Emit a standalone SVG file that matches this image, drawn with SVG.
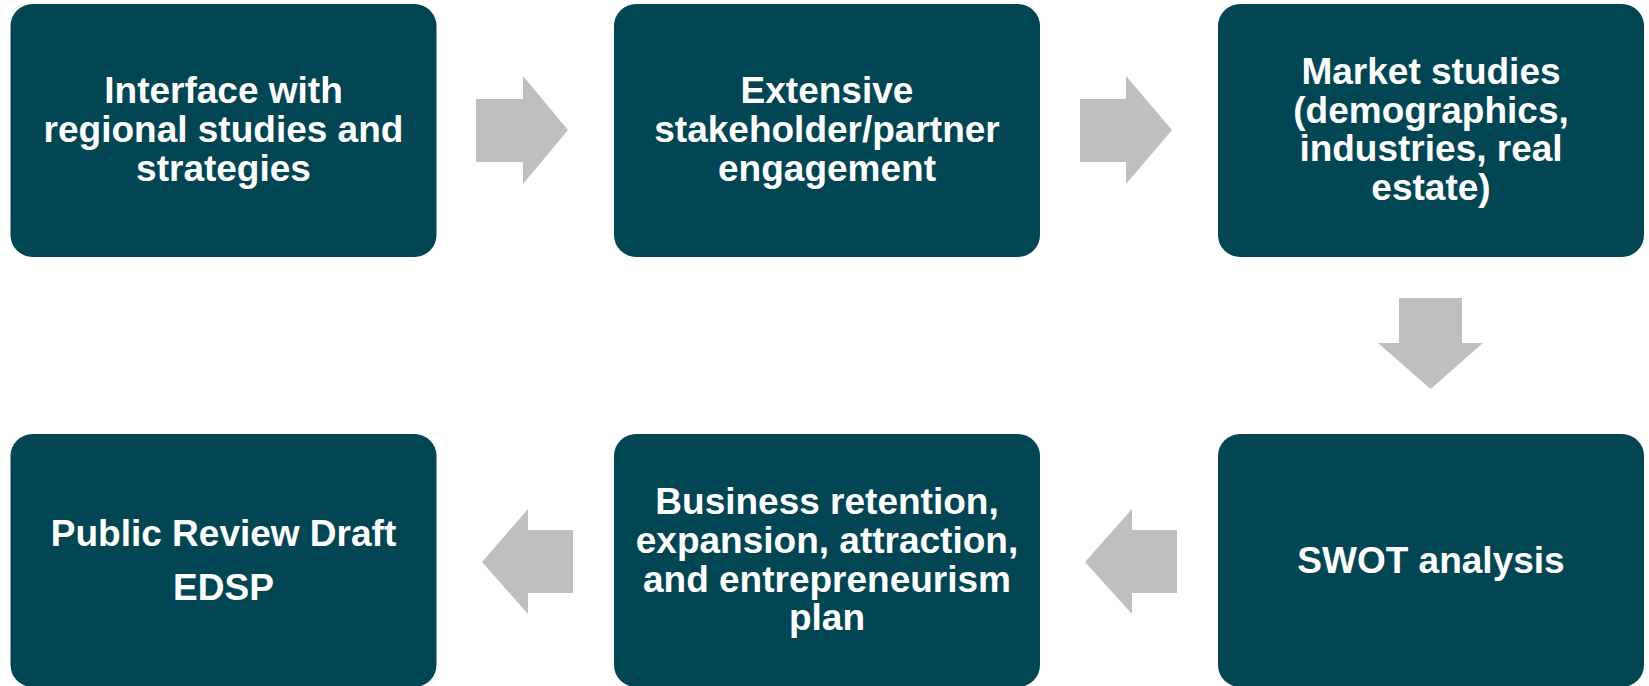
<svg xmlns="http://www.w3.org/2000/svg" width="1649" height="686" viewBox="0 0 1649 686">
<style>
.box{fill:#024654;}
.t{fill:#ffffff;font-family:"Liberation Sans",Arial,sans-serif;font-weight:bold;font-size:37px;text-anchor:middle;}
.arr{fill:#bfbfbf;}
</style>
<rect width="1649" height="686" fill="#ffffff"/>
<g id="n1"><rect class="box" x="10.5" y="4" width="426" height="253" rx="22"/>
<text class="t"><tspan x="223.5" y="103">Interface with</tspan><tspan x="223.5" y="142">regional studies and</tspan><tspan x="223.5" y="181">strategies</tspan></text></g>
<g id="n2"><rect class="box" x="614" y="4" width="426" height="253" rx="22"/>
<text class="t"><tspan x="827" y="103">Extensive</tspan><tspan x="827" y="142">stakeholder/partner</tspan><tspan x="827" y="181">engagement</tspan></text></g>
<g id="n3"><rect class="box" x="1218" y="4" width="426" height="253" rx="22"/>
<text class="t"><tspan x="1431" y="84">Market studies</tspan><tspan x="1431" y="123">(demographics,</tspan><tspan x="1431" y="161">industries, real</tspan><tspan x="1431" y="200">estate)</tspan></text></g>
<g id="n4"><rect class="box" x="1218" y="434" width="426" height="253" rx="22"/>
<text class="t"><tspan x="1431" y="573">SWOT analysis</tspan></text></g>
<g id="n5"><rect class="box" x="614" y="434" width="426" height="253" rx="22"/>
<text class="t"><tspan x="827" y="514">Business retention,</tspan><tspan x="827" y="553">expansion, attraction,</tspan><tspan x="827" y="592">and entrepreneurism</tspan><tspan x="827" y="630">plan</tspan></text></g>
<g id="n6"><rect class="box" x="10.5" y="434" width="426" height="253" rx="22"/>
<text class="t"><tspan x="223.5" y="546">Public Review Draft</tspan><tspan x="223.5" y="600">EDSP</tspan></text></g>
<g id="connectors">
<polygon class="arr" points="476,99 523,99 523,76 568,130 523,184 523,162 476,162"/>
<polygon class="arr" points="1080,99 1126,99 1126,76 1172,130 1126,184 1126,162 1080,162"/>
<polygon class="arr" points="1399,298 1462,298 1462,343 1483,343 1430.5,389 1378,343 1399,343"/>
<polygon class="arr" points="1177,530 1132,530 1132,509 1085,562 1132,614 1132,593 1177,593"/>
<polygon class="arr" points="573,530 528,530 528,509 482,562 528,614 528,593 573,593"/>
</g>
</svg>
